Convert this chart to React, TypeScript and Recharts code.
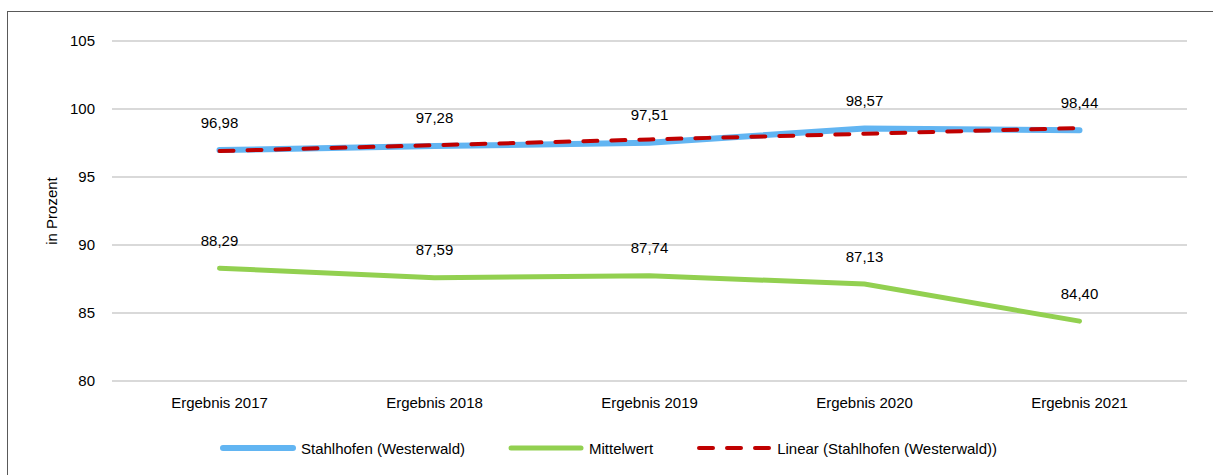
import React from 'react';
import { LineChart, Line, XAxis, YAxis, CartesianGrid, Legend, LabelList } from 'recharts';

const categories = ['Ergebnis 2017', 'Ergebnis 2018', 'Ergebnis 2019', 'Ergebnis 2020', 'Ergebnis 2021'];
const stahlhofen = [96.98, 97.28, 97.51, 98.57, 98.44];
const mittelwert = [88.29, 87.59, 87.74, 87.13, 84.4];
const linearTrend = [96.91, 97.34, 97.76, 98.18, 98.6];
const yTicks = [80, 85, 90, 95, 100, 105];

const data = categories.map((name, i) => ({
  name,
  stahlhofen: stahlhofen[i],
  mittelwert: mittelwert[i],
  linear: linearTrend[i],
}));

const FONT = '"Liberation Sans", Arial, sans-serif';
const FS = 15;
const BLUE = '#62B5F2';
const GREEN = '#92D050';
const RED = '#C00000';

const fmt = (v: number) => v.toFixed(2).replace('.', ',');

const ValueLabel = (props: any) => {
  const { x, y, value } = props;
  return (
    <text x={x} y={y - 28} textAnchor="middle" dominantBaseline="central"
      fontFamily={FONT} fontSize={FS} fill="#000">
      {fmt(value)}
    </text>
  );
};

const legendItems = [
  { label: 'Stahlhofen (Westerwald)', color: BLUE, dash: undefined, width: 6 },
  { label: 'Mittelwert', color: GREEN, dash: undefined, width: 5 },
  { label: 'Linear (Stahlhofen (Westerwald))', color: RED, dash: '14 14', width: 4 },
];

const ChartLegend = () => (
  <div style={{ height: 54, display: 'flex', justifyContent: 'center', alignItems: 'center', paddingLeft: 30,
    fontFamily: FONT, fontSize: FS, color: '#000' }}>
    {legendItems.map((it, i) => (
      <div key={it.label} style={{ display: 'flex', alignItems: 'center', marginRight: i < legendItems.length - 1 ? 43 : 0 }}>
        <svg width={76} height={10} style={{ marginRight: 5 }}>
          <line x1={3} y1={5} x2={73} y2={5} stroke={it.color} strokeWidth={it.width}
            strokeLinecap="round" strokeDasharray={it.dash} />
        </svg>
        <span>{it.label}</span>
      </div>
    ))}
  </div>
);

export default function App() {
  return (
    <div style={{ position: 'fixed', left: 0, top: 0, width: 1213, height: 475, overflow: 'hidden', background: '#fff' }}>
      <div style={{ position: 'absolute', left: 7, top: 11, width: 1230, height: 490, border: '1px solid #595959' }} />
      <div style={{ position: 'absolute', left: 0, top: 0 }}>
        <LineChart width={1213} height={475} data={data} margin={{ top: 41, right: 26, left: 0, bottom: 0 }}>
          <CartesianGrid vertical={false} stroke="#D9D9D9" strokeWidth={2} />
          <XAxis dataKey="name" height={40} axisLine={false} tickLine={false} tickSize={0} tickMargin={16}
            padding={{ left: 107.5, right: 107.5 }}
            tick={{ fontFamily: FONT, fontSize: FS, fill: '#000' }} />
          <YAxis domain={[80, 105]} ticks={yTicks} width={112} axisLine={false} tickLine={false}
            tickSize={0} tickMargin={17} tick={{ fontFamily: FONT, fontSize: FS, fill: '#000' }}
            label={{ value: 'in Prozent', angle: -90, position: 'insideLeft', offset: 52,
              style: { textAnchor: 'middle', fontFamily: FONT, fontSize: FS, fill: '#000' } }} />
          <Legend verticalAlign="bottom" content={<ChartLegend />} />
          <Line type="linear" dataKey="stahlhofen" stroke={BLUE} strokeWidth={6} strokeLinecap="round"
            dot={false} activeDot={false} isAnimationActive={false}>
            <LabelList dataKey="stahlhofen" content={<ValueLabel />} />
          </Line>
          <Line type="linear" dataKey="mittelwert" stroke={GREEN} strokeWidth={5} strokeLinecap="round"
            dot={false} activeDot={false} isAnimationActive={false}>
            <LabelList dataKey="mittelwert" content={<ValueLabel />} />
          </Line>
          <Line type="linear" dataKey="linear" stroke={RED} strokeWidth={4} strokeDasharray="14 14"
            strokeLinecap="round" dot={false} activeDot={false} isAnimationActive={false} />
        </LineChart>
      </div>
    </div>
  );
}
